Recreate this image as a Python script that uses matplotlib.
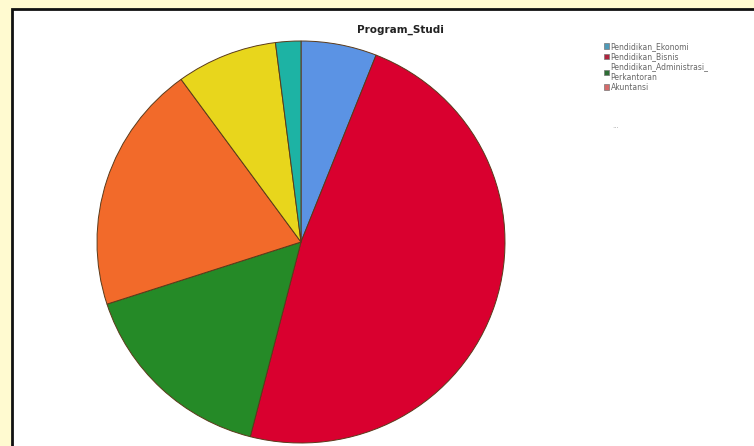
import matplotlib
matplotlib.use("Agg")
import matplotlib.pyplot as plt
from matplotlib.patches import Rectangle, Patch

# Data (percentages of students per study program)
slice_values = [6, 48, 16, 20, 8, 2]
slice_colors = ["#5B93E4", "#D9002F", "#258A27", "#F26A2A", "#E8D61C", "#1DB3A4"]
legend_labels = ["Pendidikan_Ekonomi", "Pendidikan_Bisnis",
                 "Pendidikan_Administrasi_\nPerkantoran", "Akuntansi"]
legend_colors = ["#4E9AB8", "#B0243E", "#2E6E35", "#D46A6A"]
title = "Program_Studi"

fig = plt.figure(figsize=(7.54, 4.46), dpi=100)
fig.patch.set_facecolor("#FFFAD0")

# White panel with black border (background axes)
bg = fig.add_axes([0, 0, 1, 1], zorder=-5)
bg.set_xlim(0, 1)
bg.set_ylim(0, 1)
bg.axis("off")
bg.add_patch(Rectangle((12 / 754, -0.05), 1.0, 1 - 9 / 446 + 0.05,
                       facecolor="white", edgecolor="#111111", linewidth=2.0))

# pie centre ~ (301, 242) px, radii ~204 x 201 px
cx, cy, rx, ry = 301, 242, 204, 201
ax = fig.add_axes([(cx - rx) / 754, 1 - (cy + ry) / 446, 2 * rx / 754, 2 * ry / 446], zorder=1)
ax.pie(slice_values, colors=slice_colors, startangle=90, counterclock=False,
       radius=1.0, wedgeprops=dict(edgecolor="#5a3a1a", linewidth=0.7))
ax.set_xlim(-1, 1)
ax.set_ylim(-1, 1)
ax.set_aspect("auto")
ax.axis("off")

fig.text(400 / 754, 1 - 30 / 446, title, ha="center", va="center",
         fontsize=7.5, fontweight="bold", color="#222222")

handles = [Patch(facecolor=c, edgecolor="#777777", linewidth=0.5) for c in legend_colors]
leg = fig.legend(handles, legend_labels, loc="upper left",
                 bbox_to_anchor=(600 / 754, 1 - 38 / 446), frameon=False,
                 fontsize=5.5, handlelength=0.7, handleheight=0.7,
                 handletextpad=0.2, labelspacing=0.15, borderpad=0.0)
for t in leg.get_texts():
    t.set_color("#666666")
fig.text(612 / 754, 1 - 126 / 446, "...", fontsize=5, color="#aaaaaa",
         ha="left", va="center")

fig.savefig("out.png", dpi=100, facecolor=fig.get_facecolor())
